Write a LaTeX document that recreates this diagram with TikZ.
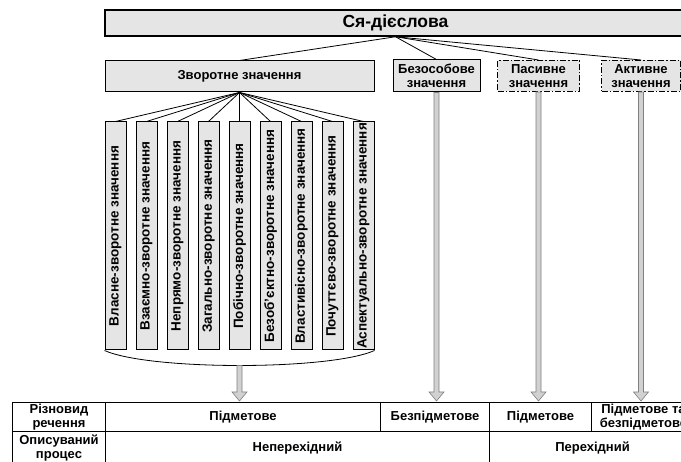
\documentclass[tikz,border=0pt]{standalone}
\usepackage{fontspec}
\setmainfont{Liberation Sans}
\usetikzlibrary{calc}

\definecolor{boxgray}{gray}{0.9}
\definecolor{arrowgray}{gray}{0.82}
\definecolor{arrowedge}{gray}{0.5}

\tikzset{
  box/.style={draw, line width=1pt, fill=boxgray, inner sep=0pt, align=center,
    font=\bfseries\fontsize{13}{14}\selectfont},
  dashbox/.style={box, dash pattern=on 6pt off 2pt on 1.5pt off 2pt},
  cell/.style={draw, line width=1pt, inner sep=0pt, align=center, anchor=north west,
    font=\bfseries\fontsize{13}{14.5}\selectfont},
  arrowbody/.style={draw=arrowedge, fill=arrowgray, line width=0.6pt}
}

% gray hollow arrow, from #1 straight down to the top of #2
\newcommand{\hollowarrow}[2]{%
  \filldraw[arrowbody] let \p1=(#1), \p2=(#2) in
    (\x1-2.5pt,\y1) -- (\x1-2.5pt,\y2+10pt) -- (\x1-7.5pt,\y2+10pt) -- (\x1,\y2+1pt)
    -- (\x1+7.5pt,\y2+10pt) -- (\x1+2.5pt,\y2+10pt) -- (\x1+2.5pt,\y1) -- cycle;}

\begin{document}
\begin{tikzpicture}[x=1pt, y=-1pt]
\useasboundingbox (0,0) rectangle (681,462);
\clip (0,0) rectangle (681,462);

%% top of the tree
\node[box, line width=1.5pt, minimum width=581pt, minimum height=26pt,
  font=\bfseries\fontsize{17.5}{19}\selectfont] (sya) at (395.5,23) {Ся-дієслова};

\node[box, minimum width=269pt, minimum height=31pt] (zvor) at (239.5,76.5) {Зворотне значення};
\node[box, minimum width=87pt, minimum height=32pt] (bezos) at (436.5,76) {Безособове\\значення};
\node[dashbox, minimum width=82pt, minimum height=31pt] (pasyv) at (538.5,76) {Пасивне\\значення};
\node[dashbox, minimum width=79pt, minimum height=31pt] (aktyv) at (641,76) {Активне\\значення};

\draw[thick] (sya.south) -- (zvor.north);
\draw[thick] (sya.south) -- (bezos.north);
\draw[thick] (sya.south) -- (pasyv.north);
\draw[thick] (sya.south) -- (aktyv.north);

%% kinds of the reflexive meaning
\foreach \t [count=\i] in {Власне-зворотне значення, Взаємно-зворотне значення,
    Непрямо-зворотне значення, Загально-зворотне значення, Побічно-зворотне значення,
    Безоб'єктно-зворотне значення, Властивісно-зворотне значення,
    Почуттєво-зворотне значення, Аспектуально-зворотне значення}
  {
  \node[box, rotate=90, minimum width=228pt, minimum height=21pt,
    font=\bfseries\fontsize{13.5}{14}\selectfont] (z\i) at (115.5+31*\i-31,236) {\t};
  \draw[thick] (zvor.south) -- (z\i.east);
  }

% brace under the columns
\draw[thick] (z1.north west) .. controls ($(z1.north west)+(45,20)$) and ($(z9.south west)+(-45,20)$) .. (z9.south west);
\coordinate (fanbot) at ($(z5.west)+(0,15)$);

%% table
\node[cell, minimum width=93pt, minimum height=29pt] (kind) at (12,402) {Різновид\\речення};
\node[cell, minimum width=275pt, minimum height=29pt] (subj1) at (105,402) {Підметове};
\node[cell, minimum width=109pt, minimum height=29pt] (nosubj) at (380,402) {Безпідметове};
\node[cell, minimum width=102pt, minimum height=29pt] (subj2) at (489,402) {Підметове};
\node[cell, minimum width=104pt, minimum height=29pt] (both) at (591,402) {Підметове та\\безпідметове};
\node[cell, minimum width=93pt, minimum height=33pt] (proc) at (12,431) {Описуваний\\процес};
\node[cell, minimum width=384pt, minimum height=33pt] (intr) at (105,431) {Неперехідний};
\node[cell, minimum width=206pt, minimum height=33pt] (tran) at (489,431) {Перехідний};

%% gray arrows
\hollowarrow{fanbot}{subj1.north}
\hollowarrow{bezos.south}{nosubj.north}
\hollowarrow{pasyv.south}{subj2.north}
\hollowarrow{aktyv.south}{both.north}

\end{tikzpicture}
\end{document}
